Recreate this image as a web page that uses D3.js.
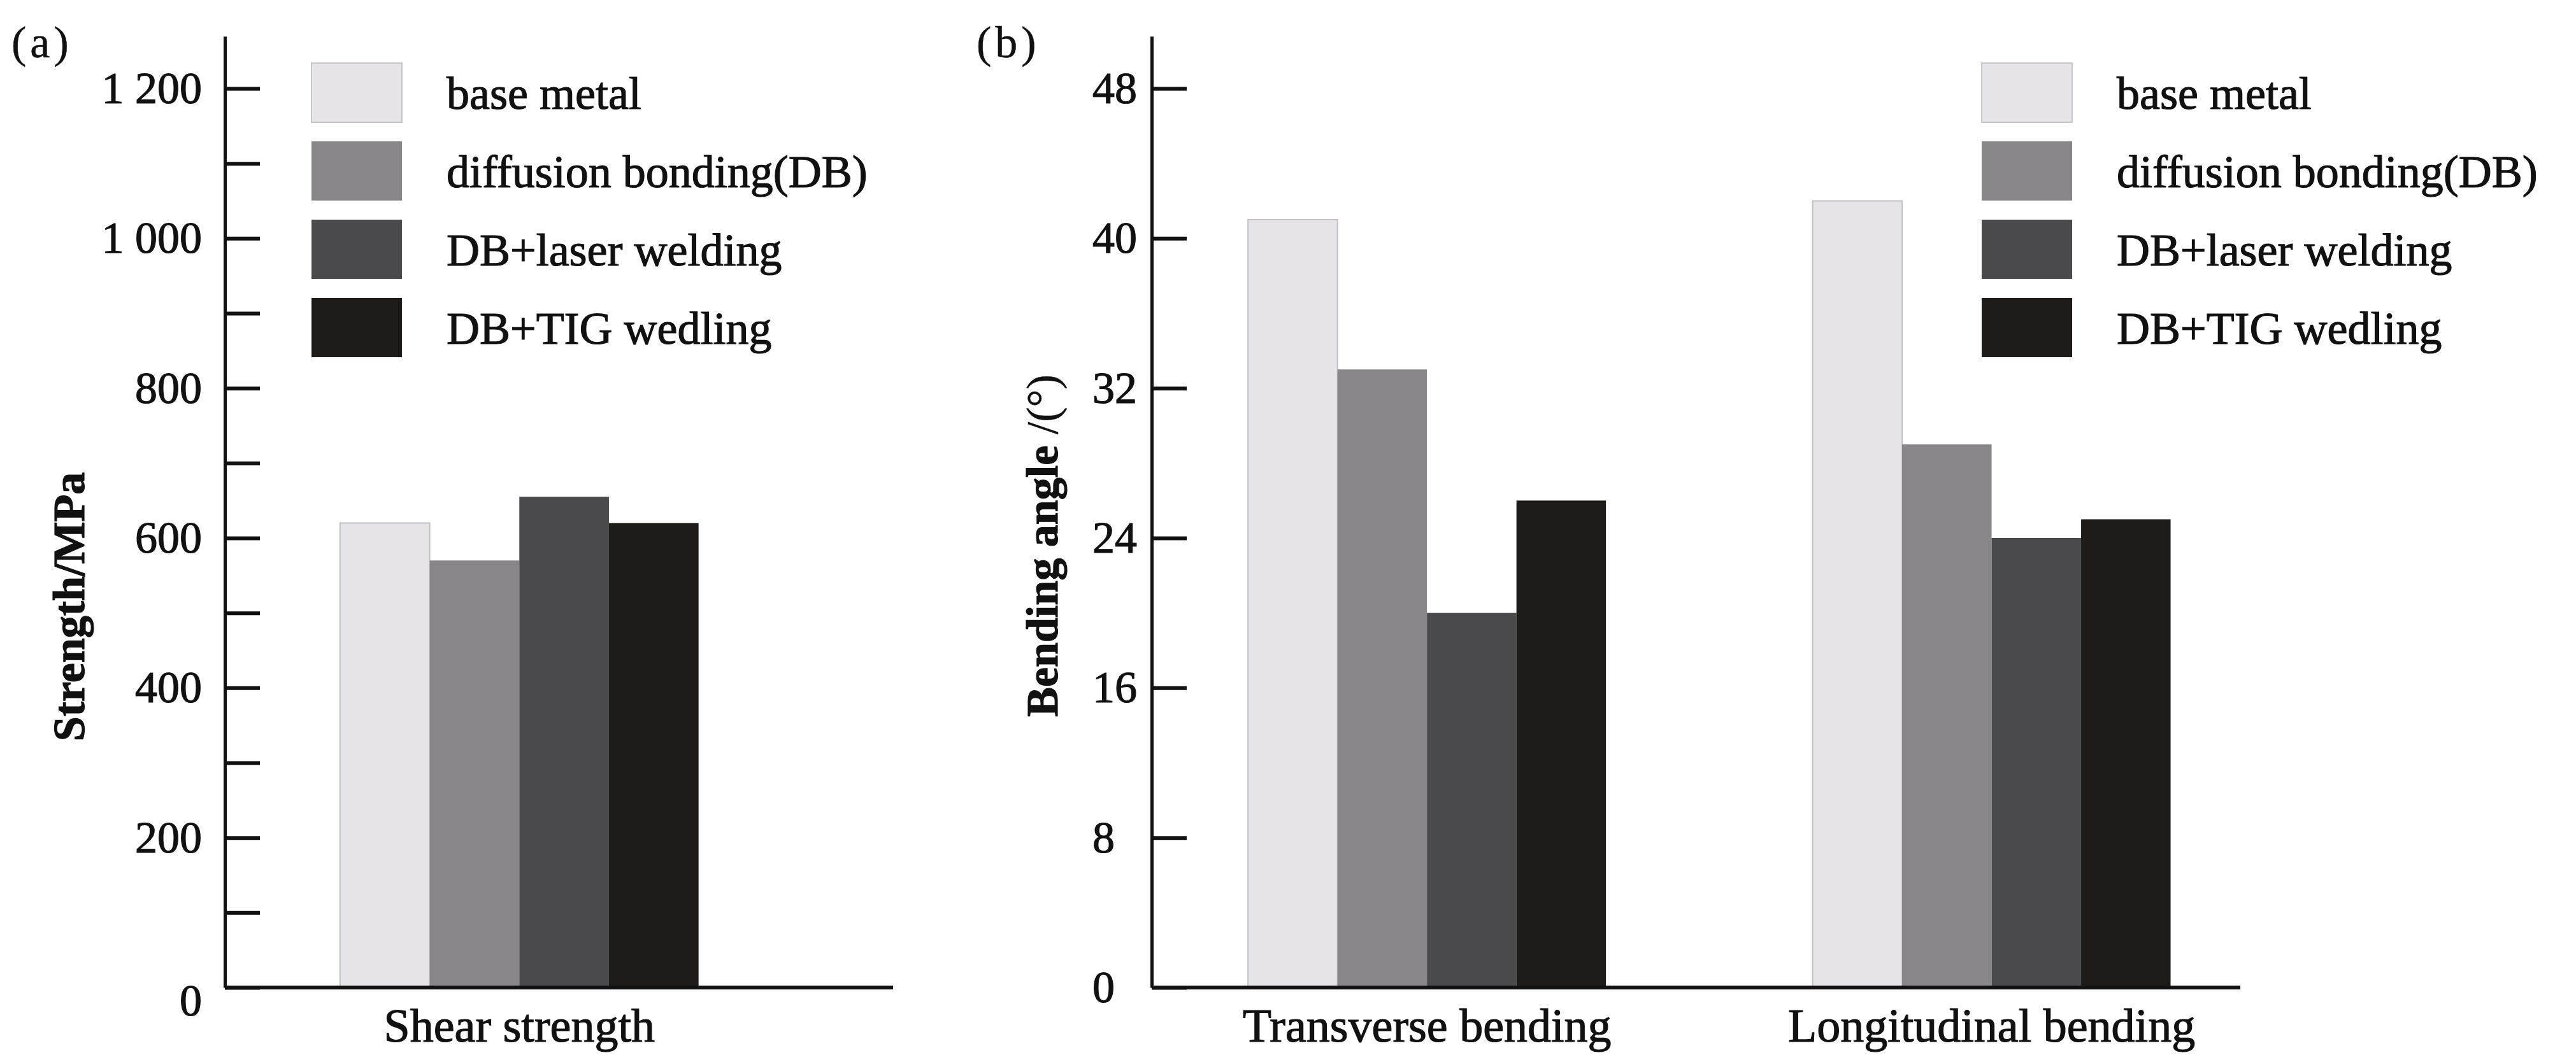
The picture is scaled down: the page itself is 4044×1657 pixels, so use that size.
<!DOCTYPE html>
<html>
<head>
<meta charset="utf-8">
<script src="https://cdn.jsdelivr.net/npm/d3@7"></script>
<style>
  body { margin: 0; background: #fff; }
  svg text { font-family: "Liberation Serif", "DejaVu Serif", "Tinos", "Times New Roman", Times, serif; fill: #111; stroke: #111; stroke-width: 1.2px; }
</style>
</head>
<body>
<svg id="chart" width="4044" height="1657"></svg>
<script>
// data
const seriesNames = ["base metal", "diffusion bonding(DB)", "DB+laser welding", "DB+TIG wedling"];
const seriesColors = ["#e6e4e9", "#888688", "#4a494b", "#1f1b19"];

const shearCategories = ["Shear strength"];
const shearValues = [620, 570, 655, 620];
const shearTicks = [0, 200, 400, 600, 800, 1000, 1200];
const shearMinorTicks = [100, 300, 500, 700, 900, 1100];

const bendCategories = ["Transverse bending", "Longitudinal bending"];
const transverseValues = [41, 33, 20, 26];
const longitudinalValues = [42, 29, 24, 25];
const bendTicks = [0, 8, 16, 24, 32, 40, 48];

const serif = "\"Liberation Serif\", \"DejaVu Serif\", \"Tinos\", \"Times New Roman\", Times, serif";
const svg = d3.select("#chart");
const zeroY = 1551, axisTopY = 57, topTickY = 139;

function drawPanel(cfg) {
  const g = svg.append("g").attr("font-family", serif);

  // y extends a bit above the last tick, like the original
  const yMax = d3.max(cfg.ticks) * (zeroY - axisTopY) / (zeroY - topTickY);
  const y = d3.scaleLinear().domain([0, yMax]).range([zeroY, axisTopY]);

  const x0 = d3.scaleBand()
    .domain(cfg.categories)
    .range([cfg.left, cfg.right])
    .paddingInner(cfg.padInner)
    .paddingOuter(cfg.padOuter)
    .align(cfg.align);
  const x1 = d3.scaleBand().domain(seriesNames).range([0, x0.bandwidth()]);
  const color = d3.scaleOrdinal().domain(seriesNames).range(seriesColors);

  // bars
  const groups = g.selectAll(".grp")
    .data(cfg.categories.map((c, i) => ({ cat: c, values: cfg.values[i] })))
    .enter().append("g")
      .attr("transform", d => "translate(" + x0(d.cat) + ",0)");

  groups.selectAll("rect")
    .data(d => d.values.map((v, i) => ({ key: seriesNames[i], value: v })))
    .enter().append("rect")
      .attr("x", d => x1(d.key))
      .attr("width", x1.bandwidth())
      .attr("y", d => y(d.value))
      .attr("height", d => zeroY - y(d.value))
      .attr("fill", d => color(d.key))
      .attr("stroke", d => d.key == seriesNames[0] ? "#c2c0c4" : "none")
      .attr("stroke-width", 2);

  // x axis: plain line + category labels
  g.append("line")
    .attr("x1", cfg.left).attr("x2", cfg.right)
    .attr("y1", zeroY).attr("y2", zeroY)
    .attr("stroke", "#111").attr("stroke-width", 6);

  g.selectAll(".cat")
    .data(cfg.categories)
    .enter().append("text")
      .attr("x", d => x0(d) + x0.bandwidth() / 2)
      .attr("y", 1636)
      .attr("text-anchor", "middle")
      .style("font-size", "74px")
      .text(d => d);

  // y axis, ticks pointing inward
  const yAxis = g.append("g")
    .attr("transform", "translate(" + cfg.left + ",0)")
    .call(d3.axisLeft(y)
      .tickValues(cfg.ticks)
      .tickSize(-55)
      .tickSizeOuter(0)
      .tickPadding(36)
      .tickFormat(cfg.format));
  yAxis.attr("font-family", serif);
  yAxis.select(".domain").attr("stroke", "#111").attr("stroke-width", 5);
  yAxis.selectAll(".tick line").attr("stroke", "#111").attr("stroke-width", 6);
  yAxis.selectAll(".tick text")
    .attr("fill", "#111")
    .style("font-size", "70px");
  if (cfg.labelStart) {
    yAxis.selectAll(".tick text").attr("text-anchor", "start").attr("x", cfg.labelStart);
  }
  yAxis.selectAll(".tick text").filter(d => d === 0).attr("dy", cfg.zeroDy);

  if (cfg.minor) {
    const minorAxis = g.append("g")
      .attr("transform", "translate(" + cfg.left + ",0)")
      .call(d3.axisLeft(y).tickValues(cfg.minor).tickSize(-55).tickFormat(""));
    minorAxis.select(".domain").remove();
    minorAxis.selectAll(".tick line").attr("stroke", "#111").attr("stroke-width", 6);
  }

  // y title
  const title = g.append("text")
    .attr("transform", "translate(" + cfg.titleX + "," + cfg.titleY + ") rotate(-90)")
    .attr("text-anchor", "middle")
    .style("font-size", "70px");
  title.append("tspan").style("font-weight", "bold").text(cfg.title);
  if (cfg.titleUnit) title.append("tspan").style("stroke-width", "0.5px").text(cfg.titleUnit);

  // panel tag
  g.append("text")
    .attr("x", cfg.tagX).attr("y", 90)
    .style("font-size", "70px")
    .style("stroke-width", "0.5px")
    .style("letter-spacing", "6px")
    .text(cfg.tag);

  // legend
  const legend = g.selectAll(".leg")
    .data(seriesNames)
    .enter().append("g")
      .attr("transform", (d, i) => "translate(" + cfg.legendX + "," + (99 + i * 123) + ")");
  legend.append("rect")
    .attr("width", 142).attr("height", 93)
    .attr("fill", d => color(d))
    .attr("stroke", d => d == seriesNames[0] ? "#c8c6ca" : "none")
    .attr("stroke-width", 2);
  legend.append("text")
    .attr("x", 212).attr("y", 46.5).attr("dy", "0.35em")
    .style("font-size", "72px")
    .text(d => d);
}

drawPanel({
  categories: shearCategories,
  values: [shearValues],
  ticks: shearTicks,
  minor: shearMinorTicks,
  format: d => d3.format(",")(d).replace(",", " "),
  left: 353, right: 1402,
  padInner: 0, padOuter: 0.432, align: 0.372,
  zeroDy: "0.62em",
  title: "Strength/MPa",
  titleX: 132, titleY: 953,
  tag: "(a)", tagX: 18,
  legendX: 489
});

drawPanel({
  categories: bendCategories,
  values: [transverseValues, longitudinalValues],
  ticks: bendTicks,
  format: d3.format("d"),
  left: 1808, right: 3517,
  padInner: 0.366, padOuter: 0.147, align: 0.58,
  labelStart: -93,
  zeroDy: "0.32em",
  title: "Bending angle ",
  titleUnit: "/(°)",
  titleX: 1660, titleY: 857,
  tag: "(b)", tagX: 1533,
  legendX: 3111
});
</script>
</body>
</html>
